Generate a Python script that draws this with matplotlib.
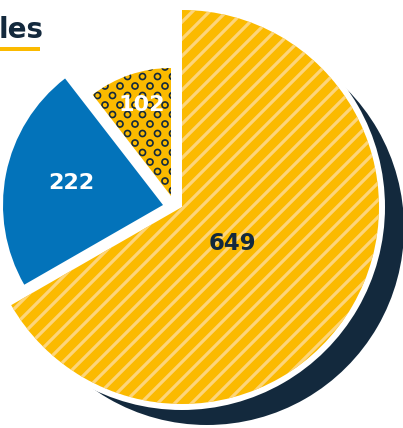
import numpy as np
import matplotlib.pyplot as plt
from matplotlib.patches import Wedge, Rectangle

# slice values, drawn clockwise from 12 o'clock
values = [649, 222, 102]
value_labels = [str(v) for v in values]
title = "les"

YELLOW = "#FBBA00"
STRIPE = "#FDD57A"
BLUE = "#0373BA"
NAVY = "#13293D"

# canvas works in pixel units, y pointing up
W, H = 403, 428
fig = plt.figure(figsize=(W / 100, H / 100), dpi=100)
ax = fig.add_axes([0, 0, 1, 1])
ax.set_xlim(0, W)
ax.set_ylim(0, H)
ax.axis("off")

# each slice gets its own vertex and radius (exploded look)
centers = [(182, 221), (163, 223), (171, 232)]
radii = [197, 160, 128]
shadow_shift = (25, -21)

spans = 360 * np.array(values) / np.sum(values)
starts = 90 - np.concatenate([[0], np.cumsum(spans)[:-1]])
ends = starts - spans

# big slice: navy drop shadow, white rim, striped fill
cx, cy = centers[0]
ax.add_patch(Wedge((cx + shadow_shift[0], cy + shadow_shift[1]), radii[0],
                   ends[0], starts[0], facecolor=NAVY, edgecolor="none", zorder=1))
ax.add_patch(Wedge((cx, cy), radii[0] + 6, ends[0], starts[0],
                   facecolor="white", edgecolor="none", zorder=2))
big = Wedge((cx, cy), radii[0], ends[0], starts[0], facecolor=YELLOW,
            edgecolor="none", zorder=3)
ax.add_patch(big)
for x0 in np.arange(-H, W + H, 17):
    stripe, = ax.plot([x0, x0 + H], [0, H], color=STRIPE, lw=2.3,
                      solid_capstyle="butt", zorder=3.5)
    stripe.set_clip_path(big)

# blue slice
ax.add_patch(Wedge(centers[1], radii[1], ends[1], starts[1],
                   facecolor=BLUE, edgecolor="none", zorder=3))

# small slice: yellow with navy rings
small = Wedge(centers[2], radii[2], ends[2], starts[2],
              facecolor=YELLOW, edgecolor="none", zorder=3)
ax.add_patch(small)
gx, gy = [], []
for i, y in enumerate(np.arange(0, H, 9.5)):
    xs = np.arange(0, W, 15) + (7.5 if i % 2 else 0)
    gx.extend(xs)
    gy.extend([y] * len(xs))
rings = ax.scatter(gx, gy, s=19, facecolors="none", edgecolors=NAVY,
                   linewidths=1.2, zorder=4)
rings.set_clip_path(small)

# value labels
ax.text(232, 428 - 243, value_labels[0], color=NAVY, fontsize=16.5,
        fontweight="bold", ha="center", va="center", zorder=5)
ax.text(71.5, 428 - 183, value_labels[1], color="white", fontsize=16,
        fontweight="bold", ha="center", va="center", zorder=5)
ax.text(142, 428 - 105, value_labels[2], color="white", fontsize=16,
        fontweight="bold", ha="center", va="center", zorder=5)

# heading with yellow underline
ax.text(-1, 428 - 38, title, color=NAVY, fontsize=20, fontweight="heavy",
        ha="left", va="baseline", zorder=5)
ax.add_patch(Rectangle((0, 428 - 51), 40, 4.5, facecolor=YELLOW,
                       edgecolor="none", zorder=5))

fig.savefig("out.png", dpi=100)
